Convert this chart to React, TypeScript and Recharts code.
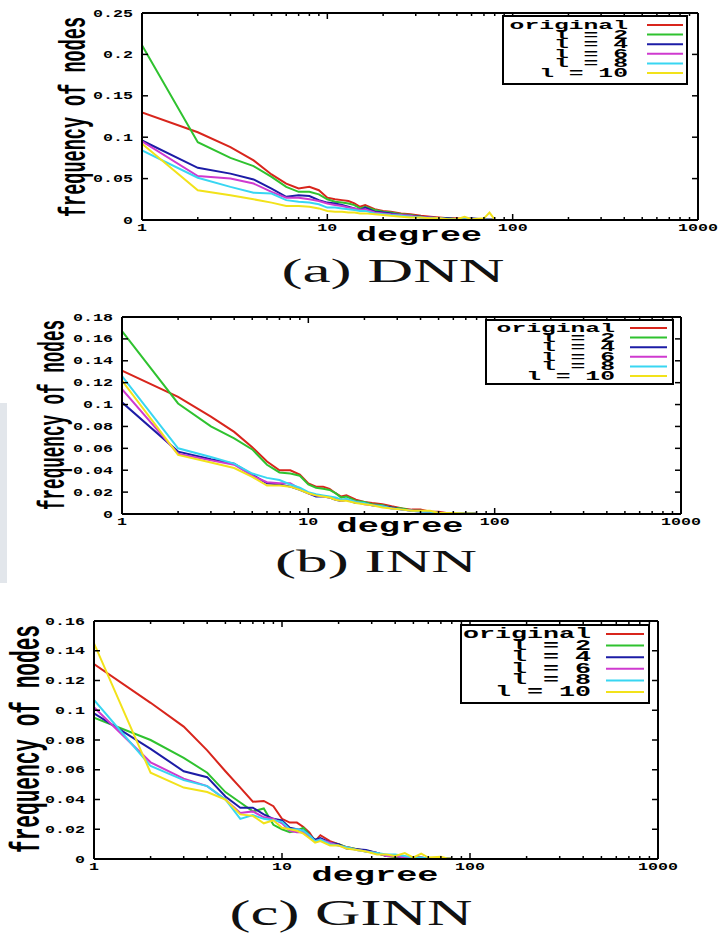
import React from 'react';
import { LineChart, Line, XAxis, YAxis, Legend } from 'recharts';

// degrees sampled along the log x axis (shared by every series in a panel)
const DEGREES = [1, 2, 3, 4, 5, 6, 7, 8, 9, 10, 11, 12, 13, 14, 15, 16, 18, 20, 22, 25, 28, 32, 36, 40, 45, 50, 55, 60, 70, 75, 80];
const SERIES_NAMES = ['original', 'l = 2', 'l = 4', 'l = 6', 'l = 8', 'l = 10'];
const SERIES_COLORS = ['#d8251c', '#2fc22f', '#1c1ca6', '#cf3acf', '#38d6f2', '#f2e21a'];
const X_MAJOR = [1, 10, 100, 1000];
const X_MINOR = [2, 3, 4, 5, 6, 7, 8, 9, 20, 30, 40, 50, 60, 70, 80, 90, 200, 300, 400, 500, 600, 700, 800, 900];

// (a) DNN
const DNN_ORIGINAL = [0.130, 0.106, 0.088, 0.072, 0.055, 0.044, 0.038, 0.040, 0.036, 0.027, 0.025, 0.024, 0.023, 0.020, 0.016, 0.018, 0.013, 0.011, 0.010, 0.008, 0.007, 0.005, 0.004, 0.003, 0.002, 0.002, 0.001, 0.001, 0.0008, 0.0005, 0.0003];
const DNN_L2 = [0.211, 0.094, 0.075, 0.065, 0.052, 0.040, 0.034, 0.034, 0.031, 0.025, 0.022, 0.021, 0.020, 0.018, 0.014, 0.016, 0.012, 0.010, 0.009, 0.007, 0.006, 0.004, 0.003, 0.002, 0.002, 0.001, 0.001, 0.0008, 0.0005, 0.0004, 0.0003];
const DNN_L4 = [0.096, 0.063, 0.056, 0.049, 0.038, 0.028, 0.030, 0.029, 0.024, 0.021, 0.020, 0.018, 0.016, 0.014, 0.012, 0.015, 0.010, 0.009, 0.008, 0.006, 0.005, 0.004, 0.003, 0.002, 0.002, 0.001, 0.001, 0.002, 0.0005, 0.0004, 0.0003];
const DNN_L6 = [0.095, 0.053, 0.050, 0.044, 0.034, 0.027, 0.027, 0.025, 0.023, 0.020, 0.018, 0.017, 0.015, 0.014, 0.012, 0.013, 0.009, 0.008, 0.007, 0.006, 0.005, 0.003, 0.003, 0.002, 0.001, 0.001, 0.001, 0.001, 0.0005, 0.0004, 0.0003];
const DNN_L8 = [0.084, 0.051, 0.040, 0.033, 0.032, 0.024, 0.022, 0.021, 0.019, 0.015, 0.015, 0.014, 0.013, 0.012, 0.011, 0.011, 0.008, 0.007, 0.006, 0.005, 0.004, 0.003, 0.002, 0.002, 0.001, 0.001, 0.001, 0.0008, 0.0005, 0.0004, 0.0003];
const DNN_L10 = [0.092, 0.036, 0.030, 0.025, 0.021, 0.017, 0.017, 0.016, 0.014, 0.011, 0.010, 0.010, 0.009, 0.009, 0.008, 0.008, 0.007, 0.006, 0.005, 0.004, 0.003, 0.003, 0.002, 0.002, 0.001, 0.001, 0.004, 0.001, 0.002, 0.009, 0.0005];
const DNN_Y_TICKS = [0, 0.05, 0.1, 0.15, 0.2, 0.25];

// (b) INN
const INN_ORIGINAL = [0.131, 0.107, 0.089, 0.075, 0.061, 0.048, 0.040, 0.040, 0.036, 0.028, 0.025, 0.025, 0.023, 0.019, 0.016, 0.017, 0.013, 0.011, 0.010, 0.009, 0.007, 0.005, 0.004, 0.004, 0.002, 0.002, 0.001, 0.001, 0.0005, 0.0004, 0.0003];
const INN_L2 = [0.167, 0.101, 0.080, 0.069, 0.059, 0.045, 0.038, 0.037, 0.035, 0.027, 0.024, 0.023, 0.022, 0.019, 0.015, 0.016, 0.012, 0.011, 0.009, 0.008, 0.006, 0.005, 0.003, 0.003, 0.002, 0.001, 0.001, 0.001, 0.0005, 0.0004, 0.0003];
const INN_L4 = [0.102, 0.057, 0.050, 0.046, 0.036, 0.028, 0.027, 0.025, 0.022, 0.019, 0.016, 0.016, 0.015, 0.013, 0.012, 0.013, 0.010, 0.010, 0.008, 0.007, 0.006, 0.004, 0.003, 0.003, 0.002, 0.001, 0.001, 0.001, 0.0005, 0.0004, 0.0003];
const INN_L6 = [0.114, 0.055, 0.049, 0.045, 0.035, 0.029, 0.028, 0.028, 0.023, 0.019, 0.017, 0.016, 0.015, 0.014, 0.012, 0.013, 0.011, 0.009, 0.008, 0.007, 0.005, 0.004, 0.003, 0.002, 0.002, 0.001, 0.001, 0.001, 0.0005, 0.0004, 0.0003];
const INN_L8 = [0.126, 0.060, 0.052, 0.046, 0.037, 0.033, 0.031, 0.027, 0.024, 0.020, 0.018, 0.017, 0.016, 0.015, 0.013, 0.014, 0.011, 0.010, 0.008, 0.007, 0.005, 0.004, 0.003, 0.002, 0.002, 0.001, 0.001, 0.001, 0.0005, 0.0004, 0.0003];
const INN_L10 = [0.122, 0.054, 0.047, 0.042, 0.034, 0.026, 0.026, 0.025, 0.022, 0.019, 0.017, 0.016, 0.015, 0.013, 0.012, 0.012, 0.010, 0.009, 0.008, 0.006, 0.005, 0.004, 0.003, 0.003, 0.003, 0.001, 0.001, 0.001, 0.0005, 0.0004, 0.0003];
const INN_Y_TICKS = [0, 0.02, 0.04, 0.06, 0.08, 0.1, 0.12, 0.14, 0.16, 0.18];

// (c) GINN
const GINN_ORIGINAL = [0.131, 0.105, 0.089, 0.073, 0.059, 0.048, 0.0385, 0.039, 0.0355, 0.027, 0.0245, 0.0245, 0.0215, 0.0177, 0.012, 0.016, 0.012, 0.010, 0.008, 0.0065, 0.0055, 0.004, 0.002, 0.0015, 0.001, 0.001, 0.0008, 0.0005, 0.0004, 0.0003, 0.0002];
const GINN_L2 = [0.095, 0.080, 0.068, 0.058, 0.045, 0.038, 0.032, 0.034, 0.023, 0.020, 0.018, 0.019, 0.021, 0.016, 0.013, 0.013, 0.011, 0.010, 0.008, 0.0065, 0.005, 0.004, 0.002, 0.0015, 0.001, 0.001, 0.0008, 0.0005, 0.0004, 0.0003, 0.0002];
const GINN_L4 = [0.098, 0.074, 0.059, 0.055, 0.042, 0.0345, 0.0345, 0.030, 0.027, 0.026, 0.021, 0.020, 0.019, 0.016, 0.013, 0.014, 0.011, 0.010, 0.007, 0.0065, 0.006, 0.004, 0.002, 0.002, 0.001, 0.001, 0.0008, 0.0005, 0.0004, 0.0003, 0.0002];
const GINN_L6 = [0.102, 0.065, 0.054, 0.049, 0.040, 0.031, 0.032, 0.028, 0.027, 0.024, 0.019, 0.018, 0.018, 0.015, 0.012, 0.013, 0.011, 0.009, 0.008, 0.006, 0.005, 0.004, 0.002, 0.002, 0.001, 0.001, 0.0008, 0.0005, 0.0004, 0.0003, 0.0002];
const GINN_L8 = [0.107, 0.0625, 0.053, 0.049, 0.040, 0.027, 0.0295, 0.027, 0.026, 0.025, 0.020, 0.020, 0.019, 0.016, 0.012, 0.013, 0.010, 0.009, 0.008, 0.006, 0.005, 0.004, 0.003, 0.003, 0.002, 0.001, 0.0008, 0.0005, 0.0004, 0.0003, 0.0002];
const GINN_L10 = [0.145, 0.058, 0.048, 0.045, 0.040, 0.030, 0.029, 0.024, 0.026, 0.021, 0.020, 0.019, 0.017, 0.014, 0.011, 0.012, 0.009, 0.009, 0.007, 0.006, 0.005, 0.003, 0.003, 0.002, 0.004, 0.001, 0.0036, 0.001, 0.0015, 0.0005, 0.0002];
const GINN_Y_TICKS = [0, 0.02, 0.04, 0.06, 0.08, 0.1, 0.12, 0.14, 0.16];

const MONO = '"Liberation Mono", "DejaVu Sans Mono", monospace';
const SERIF = '"Liberation Serif", "DejaVu Serif", serif';

const buildRows = (series: number[][]) =>
  DEGREES.map((degree, i) => {
    const row: any = { degree };
    series.forEach((s, k) => {
      row[`s${k}`] = s[i];
    });
    return row;
  });

const X_TICKS = [...X_MAJOR, ...X_MINOR].sort((a, b) => a - b);

// gnuplot-style inward ticks on all four sides
const BottomTick = ({ x, y, payload }: any) => {
  const major = X_MAJOR.includes(payload.value);
  const label = String(payload.value);
  return (
    <g>
      <line x1={x} x2={x} y1={y} y2={y - (major ? 6 : 3)} stroke="#000" strokeWidth={1.5} />
      {major && (
        <text x={x} y={y + 11} textAnchor="middle" fontFamily={MONO} fontWeight="bold" fontSize={10}
          textLength={label.length * 10} lengthAdjust="spacingAndGlyphs" fill="#000">
          {label}
        </text>
      )}
    </g>
  );
};

const TopTick = ({ x, y, payload }: any) => {
  const major = X_MAJOR.includes(payload.value);
  return <line x1={x} x2={x} y1={y} y2={y + (major ? 6 : 3)} stroke="#000" strokeWidth={1.5} />;
};

const LeftTick = ({ x, y, payload }: any) => {
  const label = String(Number(payload.value.toFixed(3)));
  return (
    <g>
      <line x1={x} x2={x + 6} y1={y} y2={y} stroke="#000" strokeWidth={1.5} />
      <text x={x - 9} y={y + 3.5} textAnchor="end" fontFamily={MONO} fontWeight="bold" fontSize={10}
        textLength={label.length * 10} lengthAdjust="spacingAndGlyphs" fill="#000">
        {label}
      </text>
    </g>
  );
};

const RightTick = ({ x, y }: any) => <line x1={x} x2={x - 6} y1={y} y2={y} stroke="#000" strokeWidth={1.5} />;

const makeLegend = (box: any) => (props: any) => {
  const items = [...(props.payload || [])].sort(
    (a: any, b: any) => SERIES_NAMES.indexOf(a.value) - SERIES_NAMES.indexOf(b.value)
  );
  return (
    <svg width={box.width} height={box.height} style={{ display: 'block' }}>
      <rect x={1} y={1} width={box.width - 2} height={box.height - 2} fill="#fff" stroke="#000" strokeWidth={2} />
      {items.map((it: any, i: number) => {
        const cy = box.rowStart + i * box.rowGap;
        return (
          <g key={it.value}>
            <text x={box.textRight} y={cy + 4} textAnchor="end" fontFamily={MONO} fontWeight="bold"
              fontSize={box.fontSize} textLength={it.value.length * box.charW} lengthAdjust="spacingAndGlyphs" fill="#000">
              {it.value}
            </text>
            <line x1={box.lineStart} x2={box.lineEnd} y1={cy} y2={cy} stroke={it.color} strokeWidth={2} />
          </g>
        );
      })}
    </svg>
  );
};

const Panel = ({ cfg }: any) => {
  const rows = buildRows(cfg.series);
  const yMax = cfg.yTicks[cfg.yTicks.length - 1];
  const L = cfg.layout;
  const axisLine = { stroke: '#000', strokeWidth: 2 };
  // plot box edges come from the layout; each thin axis takes 1px of the margin
  const margin = {
    top: L.plot.top - 1,
    left: L.plot.left - 1,
    right: 720 - L.plot.right - 1,
    bottom: L.chartHeight - L.plot.bottom - 1,
  };
  return (
    <div style={{ position: 'absolute', left: 0, top: L.top, width: 720, height: L.height }}>
      <LineChart width={720} height={L.chartHeight} data={rows} margin={margin}>
        <XAxis xAxisId="b" dataKey="degree" type="number" scale="log" domain={[1, 1000]} allowDataOverflow
          ticks={X_TICKS} interval={0} height={1} tickSize={0} tickMargin={0} tickLine={false}
          axisLine={axisLine} tick={<BottomTick />} />
        <XAxis xAxisId="t" orientation="top" dataKey="degree" type="number" scale="log" domain={[1, 1000]} allowDataOverflow
          ticks={X_TICKS} interval={0} height={1} tickSize={0} tickMargin={0} tickLine={false}
          axisLine={axisLine} tick={<TopTick />} />
        <YAxis yAxisId="l" type="number" domain={[0, yMax]} allowDataOverflow ticks={cfg.yTicks} interval={0}
          width={1} tickSize={0} tickMargin={0} tickLine={false} axisLine={axisLine} tick={<LeftTick />} />
        <YAxis yAxisId="r" orientation="right" type="number" domain={[0, yMax]} allowDataOverflow ticks={cfg.yTicks}
          interval={0} width={1} tickSize={0} tickMargin={0} tickLine={false} axisLine={axisLine} tick={<RightTick />} />
        {SERIES_NAMES.map((name, k) => (
          <Line key={name} xAxisId="b" yAxisId="l" type="linear" dataKey={`s${k}`} name={name}
            stroke={SERIES_COLORS[k]} strokeWidth={2} dot={false} activeDot={false} isAnimationActive={false} />
        ))}
        <Legend layout="vertical" align="center" verticalAlign="middle" width={L.legend.width} height={L.legend.height}
          wrapperStyle={{ left: L.legend.left, top: L.legend.top, width: L.legend.width, height: L.legend.height }}
          content={makeLegend(L.legend)} />
      </LineChart>
      <svg width={720} height={L.height} style={{ position: 'absolute', left: 0, top: 0, pointerEvents: 'none' }}>
        <text transform={`translate(${L.yLabel.x},${L.yLabel.y}) scale(1.9,1) rotate(-90)`} textAnchor="middle"
          dominantBaseline="central" fontFamily={MONO} fontWeight="bold" fontSize={L.yLabel.size}
          textLength={L.yLabel.length} lengthAdjust="spacingAndGlyphs" fill="#000">
          frequency of nodes
        </text>
        <text x={L.xLabel.x} y={L.xLabel.y} textAnchor="middle" fontFamily={MONO} fontWeight="bold" fontSize={L.xLabel.size}
          textLength={L.xLabel.length} lengthAdjust="spacingAndGlyphs" fill="#000">
          degree
        </text>
        <text x={L.title.x} y={L.title.y} textAnchor="middle" fontFamily={SERIF} fontSize={L.title.size}
          textLength={L.title.length} lengthAdjust="spacingAndGlyphs" fill="#111">
          {cfg.title}
        </text>
      </svg>
    </div>
  );
};

const PANELS = [
  {
    title: '(a) DNN',
    series: [DNN_ORIGINAL, DNN_L2, DNN_L4, DNN_L6, DNN_L8, DNN_L10],
    yTicks: DNN_Y_TICKS,
    layout: {
      top: 0, height: 300, chartHeight: 250,
      plot: { left: 142, right: 698, top: 13, bottom: 220 },
      legend: { left: 502, top: 15, width: 186, height: 70, rowStart: 10, rowGap: 9.6, textRight: 126, lineStart: 145, lineEnd: 181, fontSize: 13, charW: 14.8 },
      yLabel: { x: 76, y: 117, size: 19, length: 200 },
      xLabel: { x: 419, y: 241, size: 20, length: 126 },
      title: { x: 393, y: 282, size: 33, length: 223 },
    },
  },
  {
    title: '(b) INN',
    series: [INN_ORIGINAL, INN_L2, INN_L4, INN_L6, INN_L8, INN_L10],
    yTicks: INN_Y_TICKS,
    layout: {
      top: 300, height: 300, chartHeight: 250,
      plot: { left: 122, right: 681, top: 17, bottom: 214 },
      legend: { left: 485, top: 19, width: 189, height: 66, rowStart: 9, rowGap: 9.6, textRight: 130, lineStart: 145, lineEnd: 182, fontSize: 13, charW: 14.8 },
      yLabel: { x: 55, y: 115, size: 19, length: 190 },
      xLabel: { x: 400, y: 232, size: 20, length: 127 },
      title: { x: 376, y: 272, size: 32, length: 202 },
    },
  },
  {
    title: '(c) GINN',
    series: [GINN_ORIGINAL, GINN_L2, GINN_L4, GINN_L6, GINN_L8, GINN_L10],
    yTicks: GINN_Y_TICKS,
    layout: {
      top: 600, height: 338, chartHeight: 300,
      plot: { left: 94, right: 658, top: 21, bottom: 259 },
      legend: { left: 460, top: 24, width: 190, height: 80, rowStart: 10, rowGap: 11.6, textRight: 131, lineStart: 146, lineEnd: 184, fontSize: 14, charW: 16 },
      yLabel: { x: 28, y: 139, size: 21, length: 228 },
      xLabel: { x: 375, y: 281, size: 21, length: 127 },
      title: { x: 351, y: 325, size: 35, length: 243 },
    },
  },
];

export default function App() {
  return (
    <div style={{ position: 'absolute', left: 0, top: 0, width: 720, height: 938, background: '#fff', overflow: 'hidden' }}>
      <div style={{ position: 'absolute', left: 0, top: 403, width: 7, height: 180, background: '#e2e6eb' }} />
      {PANELS.map((p) => (
        <Panel key={p.title} cfg={p} />
      ))}
    </div>
  );
}
